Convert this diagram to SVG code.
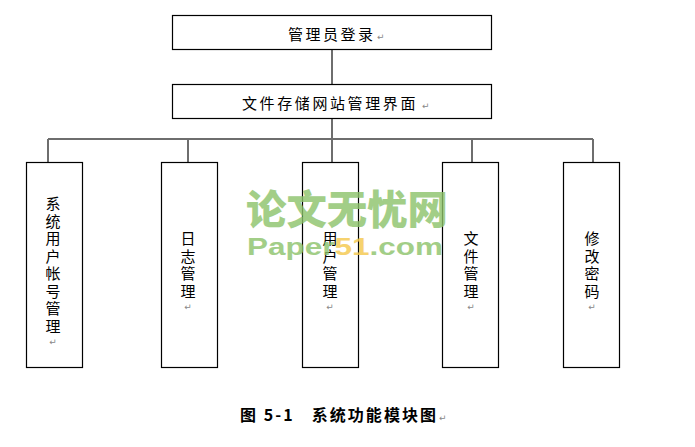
<svg xmlns="http://www.w3.org/2000/svg" width="695" height="447" viewBox="0 0 695 447">
<style>
.box{fill:#fff;stroke:#000;stroke-width:1.2}
.conn{stroke:#6e6e6e;stroke-width:2;fill:none}
.t{font-family:"Noto Sans CJK SC","Noto Sans",sans-serif;font-size:15px;fill:#000}
.v{font-family:"Noto Sans CJK SC","Noto Sans",sans-serif;font-size:15px;fill:#000;text-anchor:middle;writing-mode:vertical-rl;letter-spacing:2.5px}
.pm{font-family:"DejaVu Sans",sans-serif;font-size:9px;fill:#888}
.cap{font-family:"Noto Sans CJK SC","Noto Sans",sans-serif;font-size:16px;font-weight:bold;fill:#000;white-space:pre}
.wm{font-family:"Noto Sans CJK SC",sans-serif;font-weight:900;fill:#8cc26a;opacity:0.8}
.wm2{font-family:"Liberation Sans",sans-serif;font-weight:bold;fill:#8cc26a;opacity:0.8}
</style>
<rect width="695" height="447" fill="#fff"/>
<g id="connectors">
<line class="conn" x1="332" y1="49" x2="332" y2="85"/>
<line class="conn" x1="332" y1="118" x2="332" y2="139"/>
<line class="conn" x1="48" y1="139" x2="593" y2="139"/>
<line class="conn" x1="48" y1="139" x2="48" y2="162"/>
<line class="conn" x1="188" y1="139" x2="188" y2="162"/>
<line class="conn" x1="332" y1="139" x2="332" y2="162"/>
<line class="conn" x1="472" y1="139" x2="472" y2="162"/>
<line class="conn" x1="593" y1="139" x2="593" y2="162"/>
</g>
<g id="n-login">
<rect class="box" x="172.5" y="15.5" width="319" height="34"/>
<text class="t" x="288" y="40" letter-spacing="2.5">管理员登录</text><text class="pm" x="377" y="40">↵</text>
</g>
<g id="n-main">
<rect class="box" x="172.5" y="84.5" width="319" height="34"/>
<text class="t" x="242" y="109" letter-spacing="2.6">文件存储网站管理界面</text><text class="pm" x="422" y="109">↵</text>
</g>
<g id="n-account">
<rect class="box" x="26.5" y="162.5" width="56" height="205"/>
<text class="v" x="53" y="266">系统用户帐号管理</text>
<text class="pm" x="53" y="345" text-anchor="middle">↵</text>
</g>
<g id="n-log">
<rect class="box" x="161.5" y="162.5" width="56" height="205"/>
<text class="v" x="188" y="266">日志管理</text>
<text class="pm" x="188" y="310" text-anchor="middle">↵</text>
</g>
<g id="n-user">
<rect class="box" x="302.5" y="162.5" width="56" height="205"/>
<text class="v" x="330" y="266">用户管理</text>
<text class="pm" x="330" y="310" text-anchor="middle">↵</text>
</g>
<g id="n-file">
<rect class="box" x="442.5" y="162.5" width="56" height="205"/>
<text class="v" x="471" y="266">文件管理</text>
<text class="pm" x="471" y="310" text-anchor="middle">↵</text>
</g>
<g id="n-pwd">
<rect class="box" x="563.5" y="162.5" width="56" height="205"/>
<text class="v" x="592" y="266">修改密码</text>
<text class="pm" x="592" y="310" text-anchor="middle">↵</text>
</g>
<g id="watermark">
<text class="wm" x="246" y="224" font-size="40" textLength="202" lengthAdjust="spacingAndGlyphs">论文无忧网</text>
<text class="wm2" x="247" y="255" font-size="24" textLength="196" lengthAdjust="spacingAndGlyphs">Paper<tspan fill="#f5c84a">51</tspan>.com</text>
</g>
<g id="caption">
<text class="cap" x="240" y="421" textLength="196" lengthAdjust="spacing">图 5-1   系统功能模块图</text><text class="pm" x="439" y="421">↵</text>
</g>
</svg>
